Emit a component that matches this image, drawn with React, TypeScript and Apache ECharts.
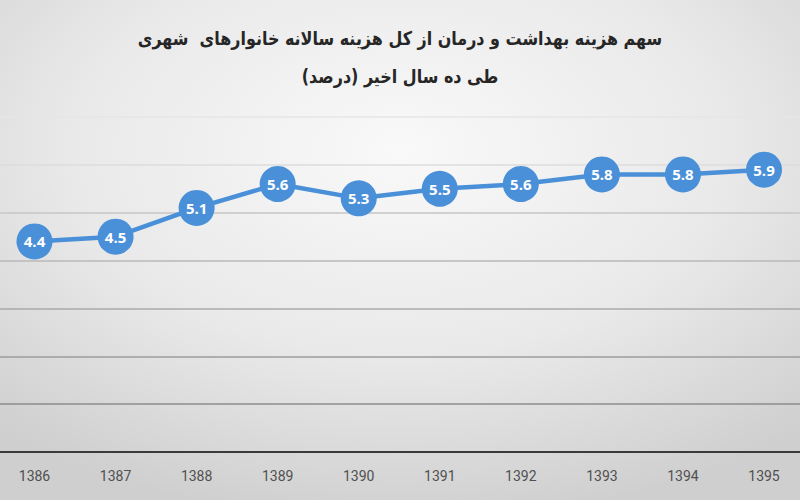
import React, { useEffect, useRef } from "react";
import * as echarts from "echarts";

const titleLines = [
  "سهم هزینه بهداشت و درمان از کل هزینه سالانه خانوارهای  شهری",
  "طی ده سال اخیر (درصد)",
];
const years = ["1386", "1387", "1388", "1389", "1390", "1391", "1392", "1393", "1394", "1395"];
const shares = [4.4, 4.5, 5.1, 5.6, 5.3, 5.5, 5.6, 5.8, 5.8, 5.9];
const gridColors = ["#555555", "#8c8c8c", "#9c9c9c", "#aaaaaa", "#b8b8b8", "#c6c6c6", "#dcdcdc", "#e6e6e6"];

export default function App() {
  const ref = useRef<HTMLDivElement>(null);
  useEffect(() => {
    if (!ref.current) return;
    const chart = echarts.init(ref.current, null, { renderer: "svg" });
    chart.setOption({
      animation: false,
      backgroundColor: new echarts.graphic.RadialGradient(0.5, 0.3, 0.75, [
        { offset: 0, color: "#f9f9f9" },
        { offset: 0.55, color: "#e9e9e9" },
        { offset: 1, color: "#cfcfcf" },
      ]),
      graphic: titleLines.map((t, i) => ({
        type: "text",
        x: 400,
        y: 39 + i * 38,
        scaleX: 0.84,
        style: {
          text: t,
          textAlign: "center",
          textVerticalAlign: "middle",
          fontFamily: "DejaVu Sans",
          fontWeight: "bold",
          fontSize: 19,
          fill: "#262626",
        },
      })),
      grid: [
        { left: 0, right: 0, top: 117, bottom: 48, containLabel: false },
        { left: 34.5, right: 36, top: 117, bottom: 48, containLabel: false },
      ],
      xAxis: [
        {
          gridIndex: 0,
          type: "value",
          min: 0,
          max: 1,
          axisLine: { show: true, lineStyle: { color: "#3a3a3a", width: 2 } },
          axisTick: { show: false },
          axisLabel: { show: false },
          splitLine: { show: false },
        },
        {
          gridIndex: 1,
          type: "category",
          data: years,
          boundaryGap: false,
          axisLine: { show: false },
          axisTick: { show: false },
          splitLine: { show: false },
          axisLabel: {
            margin: 17,
            color: "#505050",
            fontSize: 14,
            fontFamily: "Roboto",
          },
        },
      ],
      yAxis: [
        {
          gridIndex: 0,
          type: "value",
          min: 0,
          max: 7,
          interval: 1,
          axisLine: { show: false },
          axisTick: { show: false },
          axisLabel: { show: false },
          splitLine: { show: true, lineStyle: { color: gridColors, width: 1.5 } },
        },
        {
          gridIndex: 1,
          type: "value",
          min: 0,
          max: 7,
          interval: 1,
          axisLine: { show: false },
          axisTick: { show: false },
          axisLabel: { show: false },
          splitLine: { show: false },
        },
      ],
      series: [
        {
          type: "line",
          xAxisIndex: 1,
          yAxisIndex: 1,
          data: shares,
          symbol: "circle",
          symbolSize: 36,
          lineStyle: { color: "#4a90d9", width: 4.5 },
          itemStyle: { color: "#4a90d9" },
          label: {
            show: true,
            position: "inside",
            color: "#ffffff",
            fontWeight: "bold",
            fontSize: 15,
            fontFamily: "Open Sans",
            formatter: (p: any) => p.value.toFixed(1),
          },
          z: 5,
        },
      ],
    });
    return () => chart.dispose();
  }, []);
  return <div ref={ref} style={{ width: 800, height: 500, position: "absolute", left: 0, top: 0 }} />;
}
